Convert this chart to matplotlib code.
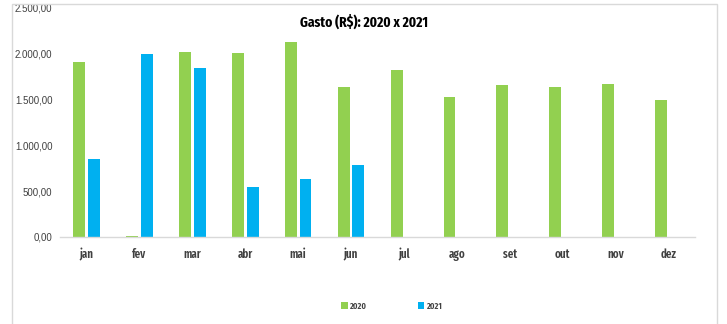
import numpy as np
import matplotlib
matplotlib.use("Agg")
import matplotlib.pyplot as plt
from matplotlib.patches import Rectangle
from matplotlib import font_manager

meses = ["jan", "fev", "mar", "abr", "mai", "jun", "jul", "ago", "set", "out", "nov", "dez"]
gasto_2020 = [1910, 8, 2015, 2010, 2130, 1640, 1825, 1530, 1660, 1640, 1675, 1495]
gasto_2021 = [850, 2000, 1845, 545, 635, 785, 0, 0, 0, 0, 0, 0]
yticks = [0, 500, 1000, 1500, 2000, 2500]

verde = "#92D050"
azul = "#00B0F0"

# fontes por arquivo (Fira Sans Extra Condensed para os textos estreitos)
arquivos = {f.fname.split("/")[-1]: f.fname for f in font_manager.fontManager.ttflist}


def fp(size, nome="FiraSansExtraCondensed-Bold.ttf"):
    if nome in arquivos:
        return font_manager.FontProperties(fname=arquivos[nome], size=size)
    return font_manager.FontProperties(family="DejaVu Sans", weight="bold", size=size * 0.8)


def fp_normal(size):
    if "LiberationSans-Regular.ttf" in arquivos:
        return font_manager.FontProperties(fname=arquivos["LiberationSans-Regular.ttf"], size=size)
    return font_manager.FontProperties(family="DejaVu Sans", size=size)


fig = plt.figure(figsize=(7.27, 3.24), dpi=100)
ax = fig.add_axes([60 / 727, 87 / 324, 635 / 727, 229 / 324])

x = np.arange(len(meses))
w = 0.225
ax.bar(x - 0.14, gasto_2020, width=w, color=verde, label="2020")
ax.bar(x + 0.14, gasto_2021, width=w, color=azul, label="2021")

ax.set_xlim(-0.5, len(meses) - 0.5)
ax.set_ylim(0, 2500)
ax.set_yticks(yticks)
ax.set_yticklabels(["{:,.2f}".format(v).replace(",", "X").replace(".", ",").replace("X", ".") for v in yticks],
                   fontproperties=fp_normal(7), color="#404040")
ax.set_xticks(x)
ax.set_xticklabels(meses, fontproperties=fp(8.5, "FiraSansExtraCondensed-SemiBold.ttf"), color="#404040")
ax.tick_params(axis="y", length=0, pad=5.5)
ax.tick_params(axis="x", length=0, pad=8)
for s in ["top", "right", "left"]:
    ax.spines[s].set_visible(False)
ax.spines["bottom"].set_color("#d9d9d9")
ax.spines["bottom"].set_linewidth(1)

fig.text(0.5, 1 - 22 / 324, "Gasto (R$): 2020 x 2021", ha="center", va="center",
         fontproperties=fp(10.5), color="#000000")

# legenda embaixo
leg = fig.legend(loc="center", bbox_to_anchor=(392 / 727, 1 - 306 / 324), ncol=2,
                 frameon=False, handlelength=0.7, handleheight=0.7,
                 columnspacing=5.6, handletextpad=0.3,
                 prop=fp(6.5, "FiraSansExtraCondensed-SemiBold.ttf"))
for t in leg.get_texts():
    t.set_color("#404040")

# borda da area do grafico
fig.patches.append(Rectangle((12 / 727, -0.05), 705 / 727, 1.05 - 4 / 324,
                             transform=fig.transFigure, fill=False,
                             edgecolor="#d9d9d9", linewidth=1))

fig.savefig("out.png", dpi=100)
